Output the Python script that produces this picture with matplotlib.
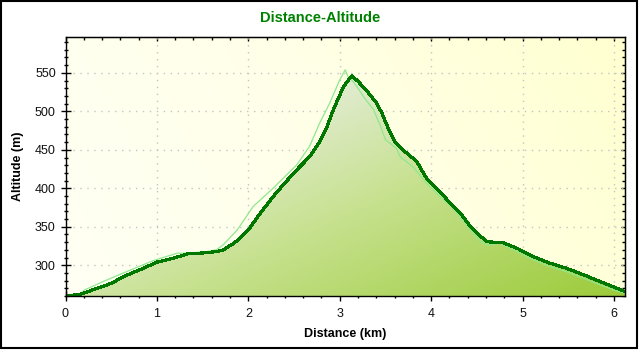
import numpy as np
import matplotlib
matplotlib.use("Agg")
import matplotlib.pyplot as plt
from matplotlib.colors import LinearSegmentedColormap
from matplotlib.patches import Polygon, Rectangle

plt.rcParams['font.family'] = ['Liberation Sans', 'DejaVu Sans']

# Smoothed elevation profile (km, m)
dist_main = [0.0, 0.14, 0.3, 0.49, 0.67, 0.85, 1.0, 1.18, 1.33, 1.51, 1.65, 1.73,
             1.84, 1.91, 2.0, 2.13, 2.27, 2.4, 2.53, 2.67, 2.77, 2.86, 2.93, 3.04,
             3.13, 3.2, 3.3, 3.4, 3.46, 3.53, 3.6, 3.71, 3.84, 3.95, 4.06, 4.21,
             4.32, 4.43, 4.5, 4.61, 4.79, 4.94, 5.12, 5.3, 5.48, 5.67, 5.85, 5.99, 6.12]
alt_main = [260.5, 261.5, 268, 276, 287, 296, 304, 309, 314.7, 316, 317.7, 320,
            328.6, 335, 346, 367.5, 389, 407, 424, 441, 458.7, 480, 502, 532,
            546, 539, 526, 511, 498, 478, 461, 448, 435, 413, 400, 380.5,
            367.5, 350, 341.6, 330.6, 329, 322, 311, 302.6, 296, 287.4, 278.7, 272, 265.7]

# Raw GPS elevation track (km, m)
dist_raw = [0.0, 0.15, 0.21, 0.41, 0.67, 0.96, 1.22, 1.33, 1.54, 1.65, 1.73, 1.80,
            1.88, 2.05, 2.27, 2.53, 2.67, 2.78, 2.89, 3.0, 3.06, 3.09, 3.15, 3.2,
            3.26, 3.37, 3.44, 3.5, 3.62, 3.66, 3.8, 3.95, 4.1, 4.24, 4.43, 4.5,
            4.61, 4.75, 4.94, 5.12, 5.3, 5.48, 5.67, 5.85, 5.99, 6.12]
alt_raw = [261.5, 262, 268, 278.7, 291.7, 306, 315.6, 315.6, 317.7, 320, 327, 336,
           346, 376, 400, 430.5, 454.6, 484.7, 510.6, 541, 554, 545, 538, 530,
           519, 502, 482.5, 463, 452, 441, 428, 406.6, 389, 374, 346, 335,
           326, 328.6, 317.7, 307, 298, 291.7, 283, 274.4, 268, 263.6]

x_ticks = [0, 1, 2, 3, 4, 5, 6]
y_ticks = [300, 350, 400, 450, 500, 550]
x_lim = (0, 6.12)
y_lim = (260, 597)

fig = plt.figure(figsize=(6.4, 3.5), dpi=100)
fig.patch.set_facecolor('white')
ax = fig.add_axes([65.5 / 640, 1 - 296 / 350, (625 - 65.5) / 640, (296 - 36.7) / 350])
ax.set_xlim(*x_lim)
ax.set_ylim(*y_lim)

# Pale yellow background gradient
bg_cmap = LinearSegmentedColormap.from_list('bg', ['#fffff4', '#ffffe8', '#ffffd0'])
gx, gy = np.meshgrid(np.linspace(0, 1, 200), np.linspace(0, 1, 100))
bg = 0.8 * gx + 0.2 * gy
ax.imshow(bg, cmap=bg_cmap, extent=(*x_lim, *y_lim), origin='lower',
          aspect='auto', zorder=0, interpolation='bilinear')

# Grid
ax.grid(True, which='major', color='#c4c4c4', linestyle=(0, (1, 4)), linewidth=1.0)
ax.set_axisbelow(True)

# Gradient fill under the smoothed profile
fill_cmap = LinearSegmentedColormap.from_list(
    'fill', [(0.0, '#f2f6ea'), (0.35, '#e0ebcc'), (0.6, '#c6e18e'), (1.0, '#9ccb3a')])
verts = list(zip(dist_main, alt_main)) + [(dist_main[-1], 200), (dist_main[0], 200)]
poly = Polygon(verts, closed=True, facecolor='none', edgecolor='none')
ax.add_patch(poly)
grad = 0.5 * gx + 0.5 * (1 - gy)
im = ax.imshow(grad, cmap=fill_cmap, extent=(*x_lim, *y_lim), origin='lower',
               aspect='auto', zorder=1, interpolation='bilinear')
im.set_clip_path(poly)

ax.plot(dist_raw, alt_raw, color='#8ee88e', linewidth=0.9, zorder=2)
ax.plot(dist_main, alt_main, color='#007800', linewidth=1.6, zorder=3,
        antialiased=False)

# Axes, ticks and labels
for s in ax.spines.values():
    s.set_color('black')
    s.set_linewidth(1.0)
    s.set_zorder(5)

ax.set_xticks(x_ticks)
ax.set_yticks(y_ticks)
ax.set_xticks(np.arange(0, 6.2, 0.2), minor=True)
ax.set_yticks(np.arange(260, 600, 10), minor=True)
ax.tick_params(which='major', direction='inout', length=7, width=1.0,
               labelsize=9, labelcolor='#111111', top=False, right=False)
ax.tick_params(which='minor', direction='inout', length=3.5, width=1.0,
               top=False, right=False)
ax.tick_params(axis='x', which='major', pad=5)

sec_x = ax.secondary_xaxis('top')
sec_x.set_xticks(x_ticks)
sec_x.set_xticks(np.arange(0, 6.2, 0.2), minor=True)
sec_x.tick_params(which='both', direction='in', labeltop=False, width=1.0)
sec_x.tick_params(which='major', length=3)
sec_x.tick_params(which='minor', length=2.5)
sec_y = ax.secondary_yaxis('right')
sec_y.set_yticks(y_ticks)
sec_y.set_yticks(np.arange(260, 600, 10), minor=True)
sec_y.tick_params(which='both', direction='in', labelright=False, width=1.0)
sec_y.tick_params(which='major', length=3)
sec_y.tick_params(which='minor', length=2.5)

ax.set_xlabel('Distance (km)', fontsize=9, fontweight='bold', labelpad=6)
ax.set_ylabel('Altitude (m)', fontsize=9, fontweight='bold', labelpad=8)
fig.text(0.5, 1 - 18 / 350, 'Distance-Altitude', ha='center', va='center',
         fontsize=10.5, fontweight='bold', color='#008000')

# Outer frame
fig.add_artist(Rectangle((0.8 / 640, 2.0 / 350), 636.5 / 640, 347.2 / 350,
                         transform=fig.transFigure, fill=False,
                         edgecolor='black', linewidth=1.5))

fig.savefig('out.png', dpi=100)
